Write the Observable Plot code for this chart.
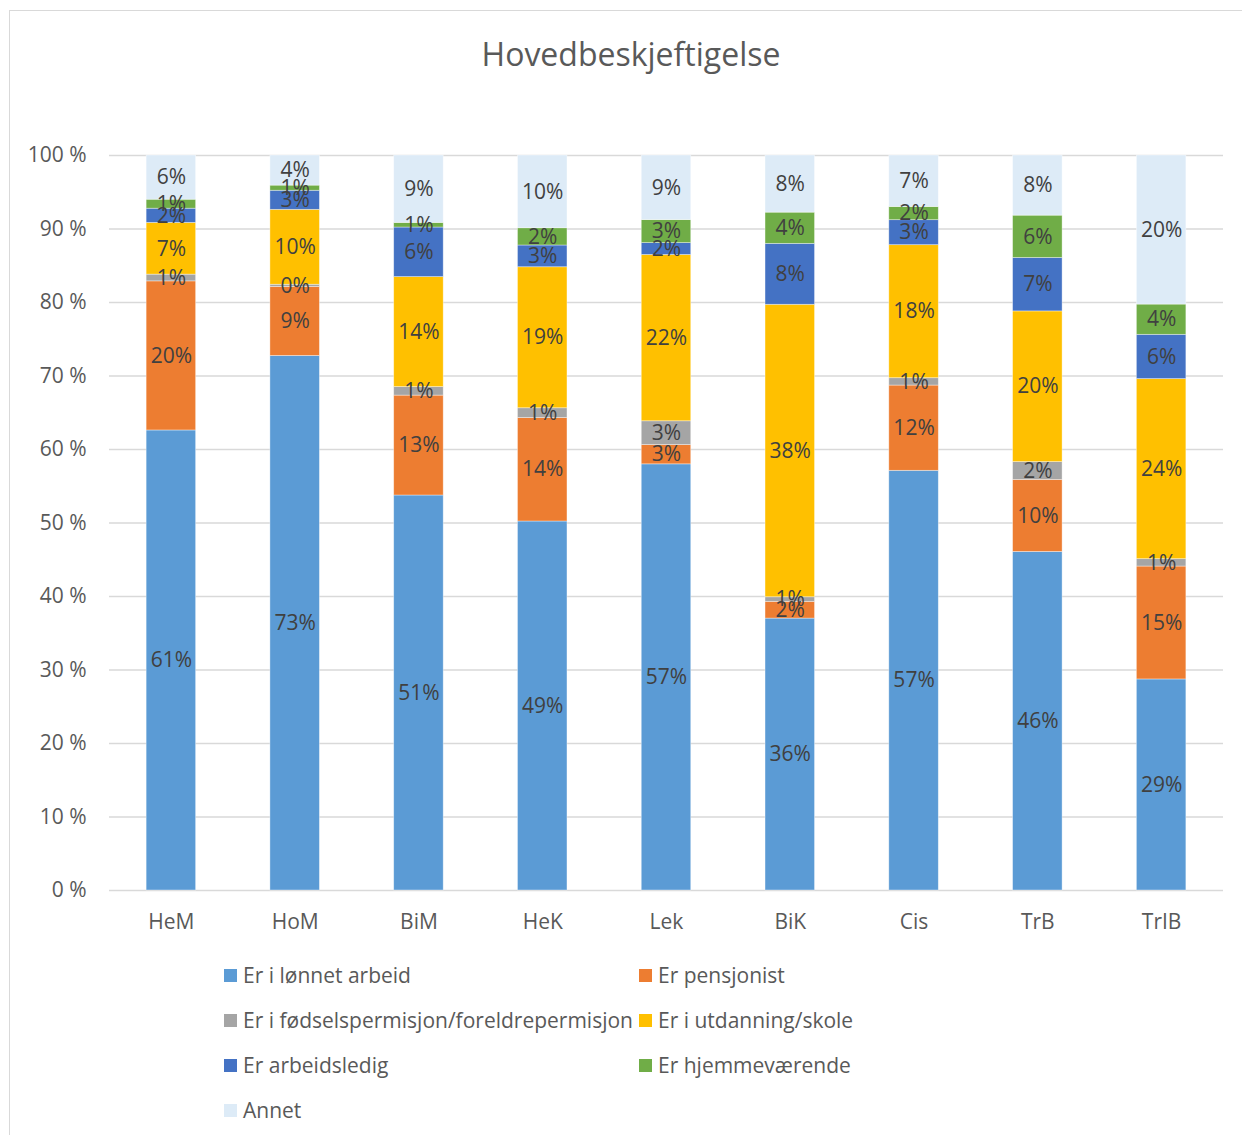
<!DOCTYPE html>
<html><head><meta charset="utf-8">
<script src="https://cdn.jsdelivr.net/npm/d3@7"></script>
<script src="https://cdn.jsdelivr.net/npm/@observablehq/plot@0.6"></script>
<style>
html,body{margin:0;padding:0;background:#fff}
body{font-family:"Open Sans",sans-serif;overflow:hidden;width:1242px;height:1135px;position:relative}
#frame{position:absolute;left:9px;top:10px;width:1260px;height:1160px;border:1.5px solid #d9d9d9;box-sizing:border-box}
#title{position:absolute;left:0;width:1262px;top:34px;line-height:40px;text-align:center;font-size:32px;color:#595959;white-space:nowrap}
#chart{position:absolute;left:0;top:100px}
.item{position:absolute;display:flex;align-items:center;height:24px;line-height:24px;font-size:21px;color:#595959;white-space:nowrap}
.sw{width:13px;height:13px;margin-right:6px;flex:none}
</style>
</head><body>
<div id="frame"></div>
<div id="title">Hovedbeskjeftigelse</div>
<div id="chart"></div>
<div id="legend"></div>
<script>
const categories = ["HeM","HoM","BiM","HeK","Lek","BiK","Cis","TrB","TrIB"];
const seriesNames = [
  "Er i lønnet arbeid",
  "Er pensjonist",
  "Er i fødselspermisjon/foreldrepermisjon",
  "Er i utdanning/skole",
  "Er arbeidsledig",
  "Er hjemmeværende",
  "Annet"
];
const lonnetArbeid     = [61.4, 72.8, 51.0, 49.2, 57.4, 35.7, 57.1, 45.6, 28.6];
const pensjonist       = [19.9,  9.4, 12.9, 13.8,  2.6,  2.2, 11.6,  9.7, 15.3];
const fodselspermisjon = [ 0.9,  0.3,  1.1,  1.3,  3.2,  0.6,  1.0,  2.4,  1.0];
const utdanning        = [ 6.9, 10.2, 14.2, 18.8, 22.4, 38.4, 18.1, 20.3, 24.4];
const arbeidsledig     = [ 1.9,  2.6,  6.4,  2.9,  1.6,  8.0,  3.4,  7.2,  6.0];
const hjemmevaerende   = [ 1.2,  0.7,  0.6,  2.3,  3.1,  4.1,  1.8,  5.7,  4.1];
const annet            = [ 5.9,  4.1,  8.7,  9.7,  8.7,  7.5,  7.0,  8.1, 20.2];
const yTicks = [0,0.1,0.2,0.3,0.4,0.5,0.6,0.7,0.8,0.9,1];
const colors = ["#5B9BD5","#ED7D31","#A5A5A5","#FFC000","#4472C4","#70AD47","#DDEBF7"];

const seriesValues = [lonnetArbeid, pensjonist, fodselspermisjon, utdanning, arbeidsledig, hjemmevaerende, annet];
const data = [];
seriesNames.forEach((s, i) => categories.forEach((c, j) => data.push({cat: c, series: s, value: seriesValues[i][j]})));

const plot = Plot.plot({
  width: 1242, height: 850,
  marginLeft: 109, marginRight: 19, marginTop: 55, marginBottom: 60,
  style: {fontFamily: "Open Sans", fontSize: "21px", color: "#595959", background: "transparent"},
  x: {domain: categories, paddingInner: 0.6, paddingOuter: 0.3, round: false, label: null},
  y: {domain: [0, 1], label: null},
  color: {domain: seriesNames, range: colors},
  marks: [
    Plot.gridY(yTicks, {stroke: "#d9d9d9", strokeOpacity: 1, strokeWidth: 1.5}),
    Plot.barY(data, Plot.stackY({x: "cat", y: "value", fill: "series", order: seriesNames, offset: "normalize", stroke: "#ffffff", strokeWidth: 0.75, strokeOpacity: 0.5})),
    Plot.text(data, Plot.stackY({x: "cat", y: "value", z: "series", order: seriesNames, offset: "normalize",
      text: d => Math.round(d.value) + "%", fill: "#404040", fontSize: 21})),
    Plot.axisY(yTicks, {tickSize: 0, tickPadding: 23, tickFormat: d => Math.round(d * 100) + " %", label: null, fontSize: 21}),
    Plot.axisX({tickSize: 0, tickPadding: 24, label: null, fontSize: 21})
  ]
});
document.getElementById("chart").appendChild(plot);

const legend = document.getElementById("legend");
const cols = [224, 639];
const rows = [963, 1008, 1053, 1098];
seriesNames.forEach((s, i) => {
  const el = document.createElement("div");
  el.className = "item";
  el.style.left = cols[i % 2] + "px";
  el.style.top = rows[Math.floor(i / 2)] + "px";
  const sw = document.createElement("span");
  sw.className = "sw";
  sw.style.background = colors[i];
  const tx = document.createElement("span");
  tx.textContent = s;
  el.appendChild(sw); el.appendChild(tx);
  legend.appendChild(el);
});
</script>
</body></html>
